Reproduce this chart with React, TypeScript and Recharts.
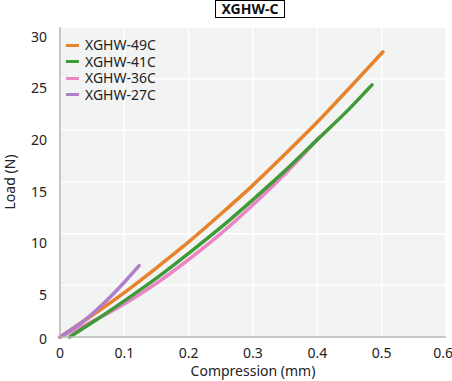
import { LineChart, Line, XAxis, YAxis, CartesianGrid } from 'recharts'

const xTicks = [0, 0.1, 0.2, 0.3, 0.4, 0.5, 0.6]
const yTicks = [0, 5, 10, 15, 20, 25, 30]

// values (compression mm -> load N)
const s49 = [
  { x: 0, y: 0 }, { x: 0.05, y: 2.1 }, { x: 0.1, y: 4.3 }, { x: 0.15, y: 6.7 },
  { x: 0.2, y: 9.2 }, { x: 0.25, y: 11.9 }, { x: 0.3, y: 14.7 }, { x: 0.35, y: 17.7 },
  { x: 0.4, y: 20.8 }, { x: 0.45, y: 24.1 }, { x: 0.502, y: 27.6 },
]
const s41 = [
  { x: 0.015, y: 0 }, { x: 0.05, y: 1.4 }, { x: 0.1, y: 3.5 }, { x: 0.15, y: 5.7 },
  { x: 0.2, y: 8.1 }, { x: 0.25, y: 10.6 }, { x: 0.3, y: 13.3 }, { x: 0.35, y: 16.1 },
  { x: 0.4, y: 19.1 }, { x: 0.45, y: 22.1 }, { x: 0.485, y: 24.4 },
]
const s36 = [
  { x: 0, y: 0 }, { x: 0.05, y: 1.5 }, { x: 0.1, y: 3.2 }, { x: 0.15, y: 5.2 },
  { x: 0.2, y: 7.5 }, { x: 0.25, y: 10.0 }, { x: 0.3, y: 12.8 }, { x: 0.35, y: 15.8 },
  { x: 0.404, y: 19.4 },
]
const s27 = [
  { x: 0, y: 0 }, { x: 0.02, y: 0.8 }, { x: 0.04, y: 1.7 }, { x: 0.06, y: 2.8 },
  { x: 0.08, y: 4.0 }, { x: 0.1, y: 5.3 }, { x: 0.123, y: 6.9 },
]

const series = [
  { name: 'XGHW-49C', color: '#e8832c', data: s49 },
  { name: 'XGHW-41C', color: '#3f9a37', data: s41 },
  { name: 'XGHW-36C', color: '#ea86c6', data: s36 },
  { name: 'XGHW-27C', color: '#b07ec8', data: s27 },
]
// draw order: pink sits under green
const drawOrder = ['XGHW-36C', 'XGHW-49C', 'XGHW-41C', 'XGHW-27C']

const FONT = '"Noto Sans", sans-serif'

function YTick({ x, y, payload }: any) {
  const off = payload.value === 0 ? 1 : 9
  return (
    <text x={x} y={y + off} textAnchor="end" dominantBaseline="central" fontSize={14} fill="#222" fontFamily={FONT}>
      {payload.value}
    </text>
  )
}

export default function App() {
  return (
    <div style={{ position: 'absolute', left: 0, top: 0, width: 452, height: 381, background: '#fff', fontFamily: FONT, color: '#222' }}>
      <LineChart width={452} height={381} margin={{ top: 27, right: 6, bottom: 0, left: 0 }}>
        <CartesianGrid fill="#f2f4f4" stroke="#ffffff" strokeWidth={1.5} horizontalValues={yTicks} verticalValues={xTicks} />
        <XAxis
          type="number"
          dataKey="x"
          domain={[0, 0.6]}
          ticks={xTicks}
          height={44}
          tickLine={false}
          axisLine={{ stroke: '#b4b4b4', strokeWidth: 1.5 }}
          tick={{ fontSize: 14, fill: '#222', fontFamily: FONT }}
          tickMargin={5}
          allowDuplicatedCategory={false}
        />
        <YAxis
          type="number"
          dataKey="y"
          domain={[0, 30]}
          ticks={yTicks}
          width={60}
          tickLine={false}
          axisLine={{ stroke: '#b4b4b4', strokeWidth: 1.5 }}
          tick={<YTick />}
          tickMargin={7}
        />
        {drawOrder.map(n => {
          const s = series.find(q => q.name === n)!
          return (
            <Line
              key={s.name}
              name={s.name}
              data={s.data}
              dataKey="y"
              type="monotone"
              stroke={s.color}
              strokeWidth={3.5}
              dot={false}
              strokeLinecap="round"
              isAnimationActive={false}
            />
          )
        })}
      </LineChart>

      {/* title */}
      <div
        style={{
          position: 'absolute', left: 215, top: 0, width: 70, height: 18, border: '1px solid #000',
          boxSizing: 'border-box', textAlign: 'center', fontWeight: 700, fontSize: 14, lineHeight: '16px', color: '#111',
        }}
      >
        XGHW-C
      </div>

      {/* legend */}
      <div style={{ position: 'absolute', left: 66, top: 37, fontSize: 14, lineHeight: '16.5px' }}>
        {series.map(s => (
          <div key={s.name} style={{ display: 'flex', alignItems: 'center' }}>
            <span style={{ display: 'inline-block', width: 13, height: 3, background: s.color, marginRight: 6 }} />
            {s.name}
          </div>
        ))}
      </div>

      {/* axis titles */}
      <div style={{ position: 'absolute', left: 60, width: 386, top: 362, textAlign: 'center', fontSize: 14, lineHeight: '18px' }}>
        Compression (mm)
      </div>
      <div
        style={{
          position: 'absolute', left: 10, top: 182, width: 0, height: 0,
        }}
      >
        <div style={{ position: 'absolute', transform: 'translate(-50%, -50%) rotate(-90deg)', whiteSpace: 'nowrap', fontSize: 14, lineHeight: '18px' }}>
          Load (N)
        </div>
      </div>
    </div>
  )
}
